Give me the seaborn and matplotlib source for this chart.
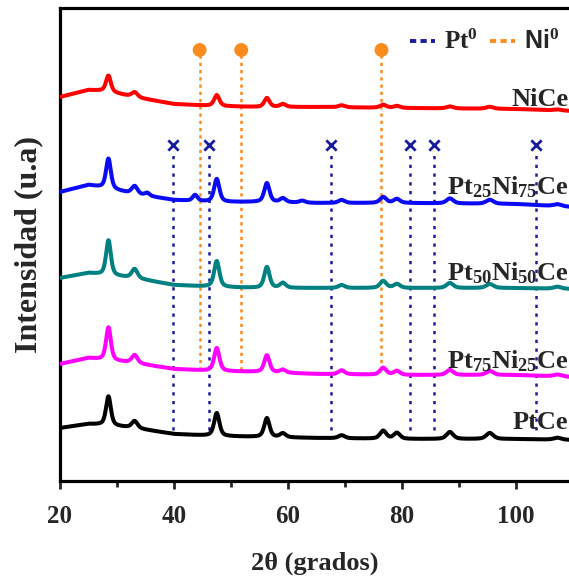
import numpy as np
import pandas as pd
import matplotlib
matplotlib.use("Agg")
import matplotlib.pyplot as plt
import seaborn as sns
from matplotlib.lines import Line2D

# ---------------- data ----------------
bg_two_theta = [20, 25, 28, 33, 40, 47, 55, 65, 80, 100, 110]
bg_NiCe = [384, 391, 390, 384, 377, 375, 374, 374, 373, 372, 370]
bg_Pt25Ni75Ce = [289, 296, 293, 287, 281, 279, 279, 278, 278, 277, 274]
bg_Pt50Ni50Ce = [203, 208, 206, 203, 196, 194, 193, 193, 193, 193, 192]
bg_Pt75Ni25Ce = [117, 123, 121, 118, 112, 110, 109, 107, 106, 106, 104]
bg_PtCe = [53, 57, 56, 53, 47, 45, 44, 43, 42, 42, 41]

peak_pos = [28.5, 33.1, 35.3, 43.7, 47.5, 56.3, 59.1, 62.5, 69.4, 76.7, 79.1, 88.4, 95.4, 107.3]
peak_fwhm = [1.0, 1.2, 1.0, 1.0, 1.1, 1.1, 1.2, 1.2, 1.3, 1.3, 1.3, 1.4, 1.5, 1.6]
h_NiCe = [16, 5, 0, 0, 11, 9, 3, 0, 2, 3, 2, 2, 2, 1]
h_Pt25Ni75Ce = [30, 8, 3, 6, 23, 19, 4, 2, 3, 6, 4, 5, 4, 2]
h_Pt50Ni50Ce = [35, 9, 0, 0, 26, 21, 5, 0, 3, 7, 4, 5, 4, 2]
h_Pt75Ni25Ce = [33, 8, 0, 0, 23, 17, 3, 0, 4, 7, 4, 5, 4, 2]
h_PtCe = [29, 7, 0, 0, 23, 19, 4, 0, 3, 8, 6, 7, 6, 2]

samples = ["NiCe", "Pt25Ni75Ce", "Pt50Ni50Ce", "Pt75Ni25Ce", "PtCe"]
sample_labels = ["NiCe", r"Pt$_{25}$Ni$_{75}$Ce", r"Pt$_{50}$Ni$_{50}$Ce",
                 r"Pt$_{75}$Ni$_{25}$Ce", "PtCe"]
sample_colors = ["#ff0000", "#0a0af5", "#008080", "#ff00ff", "#000000"]
label_y = [375, 287, 201, 113, 52]

ni_pos = [44.5, 51.8, 76.4]
pt_pos = [39.8, 46.2, 67.5, 81.4, 85.6, 103.5]
ni_top, ni_bottom = 431, 111
pt_top, pt_bottom = 336, 51

x_ticks = [20, 40, 60, 80, 100]
x_minor = [30, 50, 70, 90]

bgs = [bg_NiCe, bg_Pt25Ni75Ce, bg_Pt50Ni50Ce, bg_Pt75Ni25Ce, bg_PtCe]
heights = [h_NiCe, h_Pt25Ni75Ce, h_Pt50Ni50Ce, h_Pt75Ni25Ce, h_PtCe]

# ---------------- build patterns (background + pseudo-Voigt peaks) ----------------
tt = np.arange(20, 109.5, 0.02)
rows = []
for name, bg, hs in zip(samples, bgs, heights):
    y = np.interp(tt, bg_two_theta, bg).astype(float)
    for c, w, h in zip(peak_pos, peak_fwhm, hs):
        if h == 0:
            continue
        d = (tt - c) / (w / 2)
        y += h * (0.55 / (1 + d ** 2) + 0.45 * np.exp(-np.log(2) * d ** 2))
    rows.append(pd.DataFrame({"two_theta": tt, "intensity": y, "sample": name}))
df = pd.concat(rows, ignore_index=True)

# ---------------- style ----------------
sns.set_style("white")
plt.rcParams["font.family"] = ["Liberation Serif", "DejaVu Serif"]
plt.rcParams["font.weight"] = "bold"
plt.rcParams["mathtext.fontset"] = "custom"
plt.rcParams["mathtext.rm"] = "Liberation Serif:bold"
plt.rcParams["mathtext.bf"] = "Liberation Serif:bold"
plt.rcParams["mathtext.it"] = "Liberation Serif:italic:bold"

fig = plt.figure(figsize=(5.69, 5.81), dpi=100)
ax = fig.add_axes([60 / 569, 1 - 481 / 581, 1 - 60 / 569, (481 - 8) / 581])

for name, col in zip(samples, sample_colors):
    sub = df[df["sample"] == name]
    sns.lineplot(data=sub, x="two_theta", y="intensity", color=col, lw=2.9,
                 estimator=None, sort=False, ax=ax, legend=False, zorder=3)

navy = "#1a1a9e"
orange = "#fb8c1e"
ax.vlines(ni_pos, ni_bottom, ni_top - 4, colors=orange, linestyles=(0, (1.3, 1.6)), lw=1.8, zorder=2)
ax.vlines(pt_pos, pt_bottom, pt_top - 5, colors=navy, linestyles=(0, (1.3, 2.2)), lw=1.8, zorder=2)
sns.scatterplot(x=ni_pos, y=[ni_top] * len(ni_pos), color=orange, marker="o", s=100,
                edgecolor="none", ax=ax, zorder=4)
sns.scatterplot(x=pt_pos, y=[pt_top] * len(pt_pos), color=navy, marker="x", s=55,
                linewidth=2, ax=ax, zorder=4)

for lab, ly, in zip(sample_labels, label_y):
    ax.text(109.2, ly, lab, ha="right", va="baseline", fontsize=19, fontweight="bold")

ax.set_xlim(20, 109.3)
ax.set_ylim(0, 473)
ax.set_xticks(x_ticks)
ax.set_xticks(x_minor, minor=True)
ax.set_yticks([])
ax.tick_params(axis="x", which="major", direction="out", length=6, width=2,
               labelsize=18, pad=11, bottom=True, top=False)
ax.tick_params(axis="x", which="minor", direction="out", length=4, width=2, bottom=True)
for lbl in ax.get_xticklabels():
    lbl.set_fontweight("bold")
for sp in ["left", "bottom", "top"]:
    ax.spines[sp].set_linewidth(2.3)
    ax.spines[sp].set_color("black")
ax.spines["right"].set_visible(False)

ax.set_xlabel("2θ (grados)", fontsize=19, fontweight="bold", labelpad=17)
ax.set_ylabel("Intensidad (u.a)", fontsize=23, fontweight="bold", labelpad=12)

handles = [Line2D([], [], color=navy, lw=2.8, linestyle=(0, (1.6, 1.1))),
           Line2D([], [], color=orange, lw=2.8, linestyle=(0, (1.6, 1.1)))]
leg = ax.legend(handles, [r"Pt$^{0}$", r"Ni$^{0}$"], loc="upper right",
                bbox_to_anchor=(1.01, 0.985), ncol=2, frameon=False, fontsize=18,
                handlelength=1.0, handletextpad=0.35, columnspacing=0.5, borderaxespad=0.2)
leg.get_texts()[1].set_family(["Liberation Sans", "DejaVu Sans"])

fig.savefig("out.png", dpi=100)
